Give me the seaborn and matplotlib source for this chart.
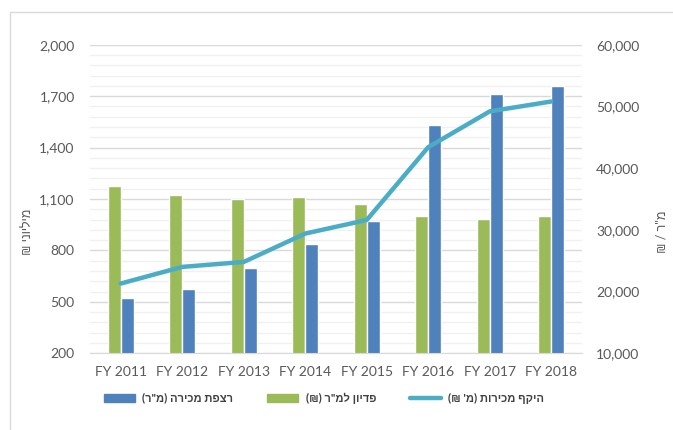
import matplotlib
matplotlib.use('Agg')
import matplotlib.pyplot as plt
from matplotlib.lines import Line2D
from matplotlib.patches import Patch
from matplotlib.ticker import FuncFormatter, MultipleLocator
import numpy as np
import pandas as pd
import seaborn as sns

sns.set_style('white')
plt.rcParams['font.family'] = ['Lato', 'Liberation Sans', 'DejaVu Sans']

years = ['FY 2011', 'FY 2012', 'FY 2013', 'FY 2014', 'FY 2015', 'FY 2016', 'FY 2017', 'FY 2018']
floor_area = [520, 575, 695, 835, 970, 1530, 1715, 1760]          # blue bars
revenue_per_sqm = [1175, 1125, 1100, 1110, 1070, 1000, 985, 1000]  # green bars
sales = [21300, 24000, 24800, 29400, 31600, 43400, 49200, 50800]   # line, right axis

lbl_floor = 'רצפת מכירה (מ"ר)'
lbl_rev = 'פדיון למ"ר (₪)'
lbl_sales = "היקף מכירות (מ' ₪)"
lbl_left = 'מיליוני ₪'
lbl_right = 'מ"ר / ₪'

BLUE = '#4F81BD'
GREEN = '#9BBB59'
TEAL = '#4BACC6'
TXT = '#595959'
GRID = '#D9D9D9'


def rtl(s):
    # matplotlib has no bidi: reverse to visual order and mirror brackets
    swap = {'(': ')', ')': '('}
    return ''.join(swap.get(c, c) for c in s[::-1])


bars = pd.DataFrame({
    'year': years * 2,
    'value': revenue_per_sqm + floor_area,
    'series': ['rev'] * len(years) + ['floor'] * len(years),
})

fig = plt.figure(figsize=(6.73, 4.30), dpi=100)
ax = fig.add_axes([0.1337, 0.1784, 0.7311, 0.7176])

sns.barplot(data=bars, x='year', y='value', hue='series', hue_order=['rev', 'floor'],
            palette={'rev': GREEN, 'floor': BLUE}, width=0.43, gap=0,
            saturation=1, legend=False, ax=ax)

ax.set_ylim(200, 2000)
ax.set_yticks(np.arange(200, 2001, 300))
ax.set_yticks(np.arange(200, 2001, 60), minor=True)
ax.yaxis.set_major_formatter(FuncFormatter(lambda v, p: f'{v:,.0f}'))
ax.set_axisbelow(True)
ax.grid(axis='y', which='minor', color='#F0F0F0', lw=1)
ax.grid(axis='y', which='major', color=GRID, lw=1)
ax.set_xlim(-0.5, len(years) - 0.5)
ax.set_xlabel('')
ax.set_ylabel('')
for s in ['top', 'left', 'right']:
    ax.spines[s].set_visible(False)
ax.spines['bottom'].set_color(GRID)
ax.set_xticks(np.arange(-0.5, len(years)), minor=True)
ax.tick_params(axis='x', which='major', length=0, pad=9, labelsize=10, labelcolor=TXT)
ax.tick_params(axis='x', which='minor', length=5, color=GRID, width=1)
ax.tick_params(axis='y', which='both', length=0, pad=11, labelsize=10, labelcolor=TXT)

ax2 = ax.twinx()
sns.lineplot(x=np.arange(len(years)), y=sales, color=TEAL, lw=3.2, ax=ax2)
ax2.set_ylim(10000, 60000)
ax2.yaxis.set_major_locator(MultipleLocator(10000))
ax2.yaxis.set_major_formatter(FuncFormatter(lambda v, p: f'{v:,.0f}'))
ax2.tick_params(axis='y', length=0, pad=10, labelsize=10, labelcolor=TXT)
for s in ax2.spines.values():
    s.set_visible(False)

fig.text(27 / 673, 1 - 232 / 430, rtl(lbl_left), rotation=90, ha='center', va='center',
         fontsize=9, color=TXT)
fig.text(661 / 673, 1 - 232 / 430, rtl(lbl_right), rotation=90, ha='center', va='center',
         fontsize=9, color=TXT)

handles = [Patch(color=BLUE), Patch(color=GREEN), Line2D([], [], color=TEAL, lw=3.2)]
labels = [rtl(lbl_floor), rtl(lbl_rev), rtl(lbl_sales)]
fig.legend(handles, labels, loc='center', bbox_to_anchor=(324 / 673, 1 - 398 / 430), ncol=3,
           frameon=False, handlelength=2.8, handleheight=0.7, handletextpad=0.7,
           columnspacing=3.0, prop={'weight': 'bold', 'size': 8}, labelcolor='#404040')

# outer chart frame
fig.add_artist(Line2D([10 / 673, 10 / 673], [0, 1 - 12 / 430], color=GRID, lw=1,
                      transform=fig.transFigure))
fig.add_artist(Line2D([10 / 673, 1], [1 - 12 / 430, 1 - 12 / 430], color=GRID, lw=1,
                      transform=fig.transFigure))

fig.savefig('out.png', dpi=100)
